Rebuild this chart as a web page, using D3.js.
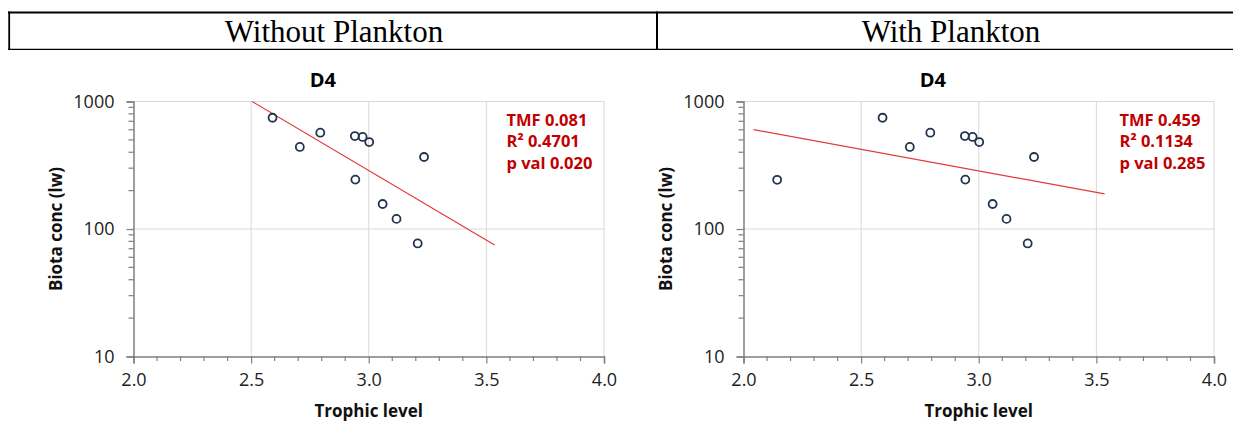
<!DOCTYPE html>
<html>
<head>
<meta charset="utf-8">
<script src="https://cdn.jsdelivr.net/npm/d3@7"></script>
<style>
  html, body { margin: 0; padding: 0; background: #fff; }
  svg { display: block; }
</style>
</head>
<body>
<svg id="fig" width="1233" height="421"></svg>
<script>
// Header row labels
const panelHeaders = ["Without Plankton", "With Plankton"];
const panelTitles = ["D4", "D4"];

// Fish / invertebrate samples (shared by both panels)
const trophicLevel = [2.591, 2.707, 2.794, 2.941, 2.974, 3.002, 3.235, 2.943, 3.059, 3.118, 3.208];
const biotaConc    = [746,   440,   569,   536,   527,   481,   367,   244,   157,   120,   77];

// Plankton sample (right panel only)
const planktonTL   = [2.143];
const planktonConc = [243];

// Regression statistics per panel
const tmf  = [0.081, 0.459];
const r2   = ["0.4701", "0.1134"];
const pval = ["0.020", "0.285"];

// Trendline forecast range (backward / forward, in trophic-level units)
const trendBackward = 0.1;
const trendForward  = 0.3;

// Axis ticks
const xTicks = [2.0, 2.5, 3.0, 3.5, 4.0];
const yTicks = [10, 100, 1000];

const svg = d3.select("#fig");

// ---- header table ----
const tbl = svg.append("g");
tbl.append("line").attr("x1", 8).attr("x2", 1233).attr("y1", 12.5).attr("y2", 12.5)
  .attr("stroke", "#000").attr("stroke-width", 2);
tbl.append("line").attr("x1", 8).attr("x2", 1233).attr("y1", 49.3).attr("y2", 49.3)
  .attr("stroke", "#000").attr("stroke-width", 1.3);
tbl.append("line").attr("x1", 9.2).attr("x2", 9.2).attr("y1", 11.5).attr("y2", 50)
  .attr("stroke", "#000").attr("stroke-width", 1.8);
tbl.append("line").attr("x1", 657).attr("x2", 657).attr("y1", 11.5).attr("y2", 50)
  .attr("stroke", "#000").attr("stroke-width", 2);
const headerX = [334, 951];
panelHeaders.forEach((h, i) => {
  tbl.append("text").attr("x", headerX[i]).attr("y", 41.5)
    .attr("text-anchor", "middle")
    .attr("font-family", "'Liberation Serif', 'Times New Roman', serif")
    .attr("font-size", 31).attr("fill", "#000").text(h);
});

// ---- scatter panels ----
const sansFont = "'Open Sans', 'Noto Sans', sans-serif";
const panelLeft = [133.5, 743.5];
const plotW = 470.5, plotTop = 101.5, plotBottom = 356.5;

function drawPanel(i) {
  const x0 = panelLeft[i];
  const x = d3.scaleLinear().domain([2, 4]).range([x0, x0 + plotW]);
  const y = d3.scaleLog().domain([10, 1000]).range([plotBottom, plotTop]);
  const g = svg.append("g");

  // gridlines
  g.append("g").selectAll("line").data(xTicks.slice(1)).join("line")
    .attr("x1", d => x(d)).attr("x2", d => x(d))
    .attr("y1", plotTop).attr("y2", plotBottom)
    .attr("stroke", "#d9d9d9").attr("stroke-width", 1);
  g.append("g").selectAll("line").data(yTicks.slice(1)).join("line")
    .attr("x1", x0).attr("x2", x0 + plotW)
    .attr("y1", d => y(d)).attr("y2", d => y(d))
    .attr("stroke", "#d9d9d9").attr("stroke-width", 1);

  // y axis (log) with minor ticks
  const minorY = [];
  for (const dec of [10, 100]) for (let k = 2; k <= 9; k++) minorY.push(dec * k);
  const yAxis = g.append("g").attr("transform", `translate(${x0},0)`);
  yAxis.call(d3.axisLeft(y).tickValues(yTicks).tickFormat(d3.format("d")).tickSize(7).tickPadding(12));
  yAxis.append("g").selectAll("line").data(minorY).join("line")
    .attr("x1", -5).attr("x2", 0).attr("y1", d => y(d)).attr("y2", d => y(d))
    .attr("stroke", "#7f7f7f").attr("stroke-width", 1.2);

  // x axis with minor ticks
  const minorX = d3.range(21).map(k => 2 + k * 0.1).filter(v => Math.abs(v * 2 - Math.round(v * 2)) > 1e-6);
  const xAxis = g.append("g").attr("transform", `translate(0,${plotBottom})`);
  xAxis.call(d3.axisBottom(x).tickValues(xTicks).tickFormat(d3.format(".1f")).tickSize(7).tickPadding(10));
  xAxis.append("g").selectAll("line").data(minorX).join("line")
    .attr("x1", d => x(d)).attr("x2", d => x(d)).attr("y1", 0).attr("y2", 4.5)
    .attr("stroke", "#7f7f7f").attr("stroke-width", 1.2);

  [yAxis, xAxis].forEach(ax => {
    ax.select(".domain").attr("stroke", "#7f7f7f").attr("stroke-width", 1.5);
    ax.selectAll(".tick line").attr("stroke", "#7f7f7f").attr("stroke-width", 1.2);
    ax.selectAll(".tick text").attr("font-family", sansFont).attr("font-size", 18).attr("fill", "#222");
  });

  // data for this panel
  const tl = i === 0 ? trophicLevel.slice() : trophicLevel.concat(planktonTL);
  const bc = i === 0 ? biotaConc.slice() : biotaConc.concat(planktonConc);
  const pts = tl.map((t, k) => ({ t, c: bc[k] }));

  // trendline: slope = log10(TMF), passing through the centroid in log space
  const slope = Math.log10(tmf[i]);
  const mx = d3.mean(pts, d => d.t);
  const my = d3.mean(pts, d => Math.log10(d.c));
  const xa = d3.min(tl) - trendBackward, xb = d3.max(tl) + trendForward;
  const trend = [xa, xb].map(t => ({ t, c: Math.pow(10, my + slope * (t - mx)) }));

  const clipId = "clip" + i;
  svg.append("clipPath").attr("id", clipId).append("rect")
    .attr("x", x0).attr("y", plotTop).attr("width", plotW).attr("height", plotBottom - plotTop);
  g.append("path").datum(trend)
    .attr("clip-path", `url(#${clipId})`)
    .attr("d", d3.line().x(d => x(d.t)).y(d => y(d.c)))
    .attr("fill", "none").attr("stroke", "#e23a3a").attr("stroke-width", 1.2);

  // markers
  g.append("g").selectAll("circle").data(pts).join("circle")
    .attr("cx", d => x(d.t)).attr("cy", d => y(d.c)).attr("r", 4)
    .attr("fill", "none").attr("stroke", "#22344f").attr("stroke-width", 1.8);

  // title
  g.append("text").attr("x", x0 + plotW / 2 - 46).attr("y", 86.5)
    .attr("text-anchor", "middle").attr("font-family", sansFont)
    .attr("font-weight", "bold").attr("font-size", 20).attr("fill", "#000")
    .text(panelTitles[i]);

  // axis titles
  g.append("text").attr("x", x0 + plotW / 2).attr("y", 416.5)
    .attr("text-anchor", "middle").attr("font-family", sansFont)
    .attr("font-weight", "bold").attr("font-size", 17).attr("fill", "#111")
    .text("Trophic level");
  g.append("text")
    .attr("transform", `translate(${x0 - 72},${(plotTop + plotBottom) / 2}) rotate(-90)`)
    .attr("text-anchor", "middle").attr("font-family", sansFont)
    .attr("font-weight", "bold").attr("font-size", 17).attr("fill", "#111")
    .text("Biota conc (lw)");

  // regression annotation
  const ann = g.append("text").attr("font-family", sansFont)
    .attr("font-weight", "bold").attr("font-size", 16.5).attr("fill", "#c00000");
  const lines = ["TMF " + d3.format(".3f")(tmf[i]), "R\u00B2 " + r2[i], "p val " + pval[i]];
  const annX = [506.5, 1119.5];
  lines.forEach((s, k) => {
    ann.append("tspan").attr("x", annX[i]).attr("y", 125.5 + k * 21.5).text(s);
  });
}

drawPanel(0);
drawPanel(1);
</script>
</body>
</html>
